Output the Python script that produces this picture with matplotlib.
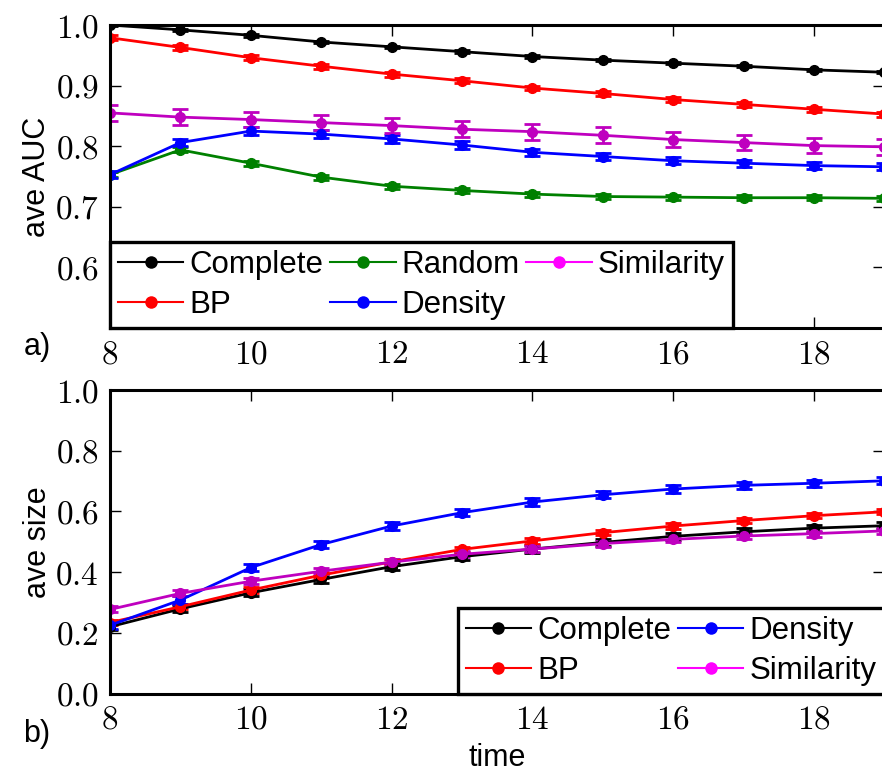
#!/usr/bin/env python3

import matplotlib
matplotlib.use('Agg')
import matplotlib.pyplot as plt
from matplotlib.lines import Line2D
from matplotlib.ticker import FuncFormatter

plt.rcParams['mathtext.fontset'] = 'cm'
plt.rcParams['font.family'] = ['Liberation Sans', 'DejaVu Sans']

time = [8, 9, 10, 11, 12, 13, 14, 15, 16, 17, 18, 19]

# a) average AUC
auc_complete = [1.000, 0.992, 0.983, 0.972, 0.964, 0.956, 0.948, 0.942, 0.937, 0.932, 0.926, 0.922]
auc_bp = [0.979, 0.963, 0.946, 0.932, 0.919, 0.908, 0.896, 0.887, 0.877, 0.869, 0.861, 0.853]
auc_random = [0.753, 0.794, 0.772, 0.749, 0.734, 0.727, 0.721, 0.717, 0.716, 0.715, 0.715, 0.714]
auc_density = [0.753, 0.806, 0.825, 0.820, 0.812, 0.802, 0.790, 0.783, 0.776, 0.772, 0.768, 0.766]
auc_similarity = [0.855, 0.848, 0.844, 0.839, 0.834, 0.828, 0.824, 0.818, 0.811, 0.806, 0.801, 0.799]
auc_err = {'Complete': 0.002, 'BP': 0.004, 'Random': 0.004, 'Density': 0.006, 'Similarity': 0.013}

# b) average size
size_complete = [0.220, 0.279, 0.332, 0.376, 0.418, 0.451, 0.476, 0.498, 0.518, 0.533, 0.545, 0.553]
size_bp = [0.234, 0.286, 0.341, 0.390, 0.434, 0.475, 0.503, 0.530, 0.552, 0.570, 0.586, 0.599]
size_density = [0.225, 0.308, 0.415, 0.491, 0.552, 0.596, 0.631, 0.655, 0.674, 0.686, 0.693, 0.701]
size_similarity = [0.277, 0.330, 0.370, 0.403, 0.433, 0.459, 0.476, 0.494, 0.508, 0.519, 0.527, 0.536]
size_err = {'Complete': 0.012, 'BP': 0.009, 'Density': 0.012, 'Similarity': 0.010}

colors = {'Complete': 'k', 'BP': 'r', 'Random': 'g', 'Density': 'b', 'Similarity': 'm'}
legend_colors = {'Complete': 'k', 'BP': 'r', 'Random': 'g', 'Density': 'b', 'Similarity': 'magenta'}

fig = plt.figure(figsize=(8.82, 7.74), dpi=100, facecolor='w')
ax1 = fig.add_axes([0.1247, 0.5762, 0.878, 0.3915])
ax2 = fig.add_axes([0.1247, 0.1040, 0.878, 0.3920])

tick_fmt = lambda fmt: FuncFormatter(lambda v, p: '$' + (fmt % v) + '$')


def draw(ax, series, errs):
    # caps take their edge width from capthick, so markeredgewidth is left alone
    for name, vals in series:
        ax.errorbar(time, vals, yerr=errs[name], color=colors[name], marker='o',
                    markersize=7, linewidth=2, elinewidth=2,
                    capsize=6, capthick=2)


def style(ax, yticks):
    ax.set_xlim(8, 19)
    ax.set_xticks([8, 10, 12, 14, 16, 18])
    ax.set_yticks(yticks)
    ax.xaxis.set_major_formatter(tick_fmt('%d'))
    ax.yaxis.set_major_formatter(tick_fmt('%.1f'))
    ax.tick_params(direction='in', length=8, width=1, top=True, right=True,
                   labelsize=24, pad=8)
    for s in ax.spines.values():
        s.set_linewidth(2.2)


def handles(names):
    return [Line2D([0], [0], color=legend_colors[n], marker='o', markersize=9,
                   markeredgewidth=0, linewidth=1.5) for n in names]


def legend(ax, names, loc, ncol):
    leg = ax.legend(handles(names), names, loc=loc, ncol=ncol, numpoints=1,
                    fontsize=22.5, borderaxespad=0, handlelength=2.1,
                    handletextpad=0.2, columnspacing=0.2, labelspacing=0.32,
                    borderpad=0.25, fancybox=False, framealpha=1)
    leg.get_frame().set_edgecolor('k')
    leg.get_frame().set_linewidth(2.4)
    return leg


names1 = ['Complete', 'BP', 'Random', 'Density', 'Similarity']
draw(ax1, [('Complete', auc_complete), ('BP', auc_bp), ('Random', auc_random),
           ('Density', auc_density), ('Similarity', auc_similarity)], auc_err)
style(ax1, [0.6, 0.7, 0.8, 0.9, 1.0])
ax1.set_ylim(0.5, 1.0)
ax1.set_ylabel('ave AUC', fontsize=22, labelpad=2)
legend(ax1, names1, 'lower left', 3)

names2 = ['Complete', 'BP', 'Density', 'Similarity']
draw(ax2, [('Complete', size_complete), ('BP', size_bp),
           ('Density', size_density), ('Similarity', size_similarity)], size_err)
style(ax2, [0.0, 0.2, 0.4, 0.6, 0.8, 1.0])
ax2.set_ylim(0.0, 1.0)
ax2.set_ylabel('ave size', fontsize=22, labelpad=2)
ax2.set_xlabel('time', fontsize=22, labelpad=5)
legend(ax2, names2, 'lower right', 2)

fig.text(0.042, 0.552, 'a)', fontsize=22, ha='center', va='center')
fig.text(0.042, 0.052, 'b)', fontsize=22, ha='center', va='center')

fig.savefig('out.png', dpi=100)
